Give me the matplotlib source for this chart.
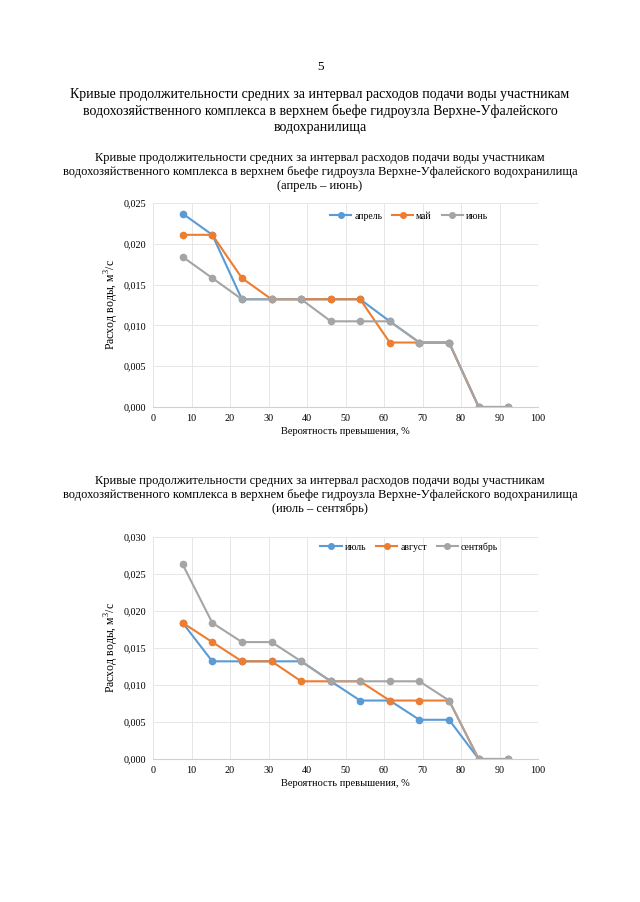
import numpy as np
import matplotlib.pyplot as plt
from matplotlib.ticker import FuncFormatter, MultipleLocator

plt.rcParams['font.family'] = ['Liberation Serif', 'DejaVu Serif']
plt.rcParams['mathtext.fontset'] = 'custom'
plt.rcParams['mathtext.rm'] = 'Liberation Serif'

# exceedance probability, %
prob = [7.7, 15.4, 23.1, 30.8, 38.5, 46.2, 53.8, 61.5, 69.2, 76.9, 84.6, 92.3]

# april - june, m3/s
april = [0.0237, 0.0211, 0.0132, 0.0132, 0.0132, 0.0132, 0.0132, 0.0105, 0.0079, 0.0079, 0.0, 0.0]
may = [0.0211, 0.0211, 0.0158, 0.0132, 0.0132, 0.0132, 0.0132, 0.0079, 0.0079, 0.0079, 0.0, 0.0]
june = [0.0184, 0.0158, 0.0132, 0.0132, 0.0132, 0.0105, 0.0105, 0.0105, 0.0079, 0.0079, 0.0, 0.0]

# july - september, m3/s
july = [0.0184, 0.0132, 0.0132, 0.0132, 0.0132, 0.0105, 0.0079, 0.0079, 0.0053, 0.0053, 0.0, 0.0]
august = [0.0184, 0.0158, 0.0132, 0.0132, 0.0105, 0.0105, 0.0105, 0.0079, 0.0079, 0.0079, 0.0, 0.0]
september = [0.0263, 0.0184, 0.0158, 0.0158, 0.0132, 0.0105, 0.0105, 0.0105, 0.0105, 0.0079, 0.0, 0.0]

colors = ['#5B9BD5', '#ED7D31', '#A5A5A5']

fig = plt.figure(figsize=(6.4, 9.02), dpi=100)

fig.text(0.5, 1 - 67/902, '5', ha='center', va='center', fontsize=9.5)
fig.text(0.5, 1 - 111/902,
         'Кривые продолжительности средних за интервал расходов подачи воды участникам\n'
         'водохозяйственного комплекса в верхнем бьефе гидроузла Верхне-Уфалейского\n'
         'водохранилища',
         ha='center', va='center', fontsize=10, linespacing=1.3)

fig.text(0.5, 1 - 172/902,
         'Кривые продолжительности средних за интервал расходов подачи воды участникам\n'
         'водохозяйственного комплекса в верхнем бьефе гидроузла Верхне-Уфалейского водохранилища\n'
         '(апрель – июнь)',
         ha='center', va='center', fontsize=9, linespacing=1.25)

fig.text(0.5, 1 - 495/902,
         'Кривые продолжительности средних за интервал расходов подачи воды участникам\n'
         'водохозяйственного комплекса в верхнем бьефе гидроузла Верхне-Уфалейского водохранилища\n'
         '(июль – сентябрь)',
         ha='center', va='center', fontsize=9, linespacing=1.25)


def comma(v, pos):
    return f'{v:.3f}'.replace('.', ',')


def draw(ax, series, names, ymax, leg_x, leg_y):
    for vals, name, c in zip(series, names, colors):
        ax.plot(prob, vals, '-o', color=c, lw=1.5, ms=4.5, label=name)
    ax.set_xlim(0, 100)
    ax.set_ylim(0, ymax)
    ax.xaxis.set_major_locator(MultipleLocator(10))
    ax.yaxis.set_major_locator(MultipleLocator(0.005))
    ax.yaxis.set_major_formatter(FuncFormatter(comma))
    ax.grid(color='#E6E6E6', lw=0.7)
    ax.set_axisbelow(True)
    for s in ['top', 'right', 'left']:
        ax.spines[s].set_visible(False)
    ax.spines['bottom'].set_color('#D0D0D0')
    ax.tick_params(length=0, labelsize=7.3, pad=5)
    ax.set_xlabel('Вероятность превышения, %', fontsize=7.5, labelpad=3)
    ax.set_ylabel('Расход воды, м$^3$/с', fontsize=8.5)
    ax.yaxis.set_label_coords(-0.083, 0.5)
    ax.legend(loc='upper right', bbox_to_anchor=(leg_x, leg_y), ncol=3, frameon=False,
              fontsize=7, handlelength=2.2, columnspacing=1.0, handletextpad=0.3,
              borderpad=0, borderaxespad=0, markerscale=0.9)


ax1 = fig.add_axes([153/640, 1 - 407/902, 385/640, 204/902])
draw(ax1, [april, may, june], ['апрель', 'май', 'июнь'], 0.025, 0.870, 0.958)

ax2 = fig.add_axes([153/640, 1 - 759/902, 385/640, 222/902])
draw(ax2, [july, august, september], ['июль', 'август', 'сентябрь'], 0.030, 0.896, 0.977)

fig.savefig('out.png', dpi=100)
